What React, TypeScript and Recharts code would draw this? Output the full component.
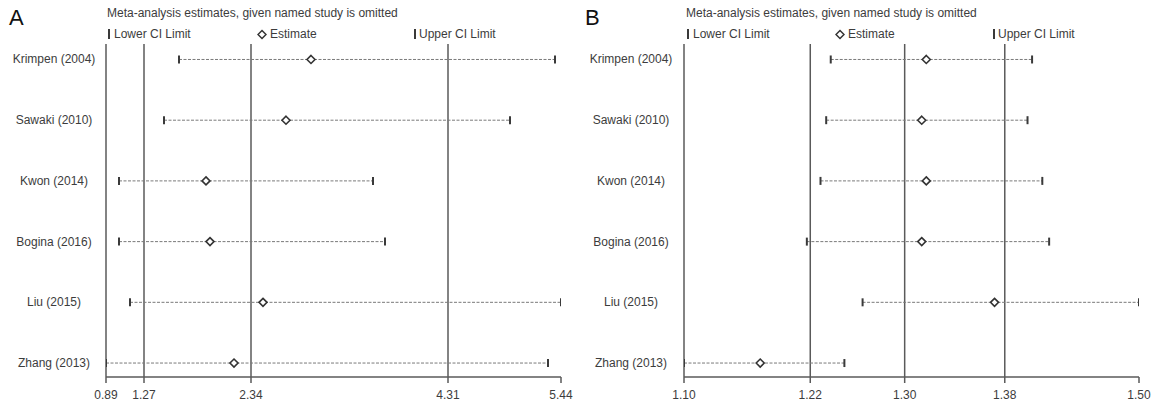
import { ScatterChart, Scatter, XAxis, YAxis, ReferenceLine } from "recharts"

// studies, top to bottom
const studies = ["Krimpen (2004)", "Sawaki (2010)", "Kwon (2014)", "Bogina (2016)", "Liu (2015)", "Zhang (2013)"]

// panel A
const lowerA = [1.62, 1.47, 1.02, 1.02, 1.13, 0.89]
const estA = [2.94, 2.69, 1.89, 1.93, 2.46, 2.17]
const upperA = [5.38, 4.93, 3.56, 3.68, 5.44, 5.31]
const pooledA = [1.27, 2.34, 4.31]
const ticksA = [0.89, 1.27, 2.34, 4.31, 5.44]
const tickLabelsA = ["0.89", "1.27", "2.34", "4.31", "5.44"]

// panel B
const lowerB = [1.229, 1.225, 1.22, 1.208, 1.257, 1.1]
const estB = [1.313, 1.309, 1.313, 1.309, 1.373, 1.167]
const upperB = [1.406, 1.402, 1.415, 1.421, 1.5, 1.241]
const pooledB = [1.211, 1.294, 1.382]
const ticksB = [1.1, 1.211, 1.294, 1.382, 1.5]
const tickLabelsB = ["1.10", "1.22", "1.30", "1.38", "1.50"]

const FONT = "'Liberation Sans', Arial, sans-serif"
const LINE = "#5a5a5a"
const TEXT = "#3c3c3c"

const Cap = (p: any) => (
  <line x1={p.cx} x2={p.cx} y1={p.cy - 4} y2={p.cy + 4} stroke="#3a3a3a" strokeWidth={2} />
)

const Diamond = (p: any) => (
  <polygon
    points={`${p.cx},${p.cy - 4} ${p.cx + 4},${p.cy} ${p.cx},${p.cy + 4} ${p.cx - 4},${p.cy}`}
    fill="#fff"
    stroke="#333"
    strokeWidth={1.6}
  />
)

interface PanelProps {
  left: number
  yWidth: number
  right: number
  labelOffset: number
  lower: number[]
  est: number[]
  upper: number[]
  pooled: number[]
  ticks: number[]
  tickLabels: string[]
}

function Panel({ left, yWidth, right, labelOffset, lower, est, upper, pooled, ticks, tickLabels }: PanelProps) {
  const pts = (vals: number[]) => vals.map((v, i) => ({ x: v, y: i }))
  const domain: [number, number] = [ticks[0], ticks[ticks.length - 1]]
  return (
    <div style={{ position: "absolute", left, top: 0 }}>
      <ScatterChart width={580} height={408} margin={{ top: 44, right, bottom: 0, left: 0 }}>
        <XAxis
          type="number"
          dataKey="x"
          domain={domain}
          ticks={ticks}
          interval={0}
          allowDataOverflow
          height={31}
          tickSize={6}
          tickMargin={7}
          axisLine={{ stroke: LINE, strokeWidth: 1.5 }}
          tickLine={{ stroke: LINE, strokeWidth: 1.5 }}
          tickFormatter={(v: number) => tickLabels[ticks.indexOf(v)] ?? String(v)}
          tick={{ fill: TEXT, fontSize: 12, fontFamily: FONT }}
        />
        <YAxis
          type="number"
          dataKey="y"
          reversed
          domain={[-0.255, 5.23]}
          ticks={[0, 1, 2, 3, 4, 5]}
          interval={0}
          allowDataOverflow
          width={yWidth}
          tickSize={0}
          tickMargin={0}
          tickLine={false}
          axisLine={{ stroke: LINE, strokeWidth: 1.5 }}
          tick={(p: any) => (
            <text
              x={p.x - labelOffset}
              y={p.y}
              textAnchor="middle"
              dominantBaseline="central"
              fill={TEXT}
              fontSize={12}
              fontFamily={FONT}
            >
              {studies[p.payload.value]}
            </text>
          )}
        />
        {pooled.map((v) => (
          <ReferenceLine key={`p-${v}`} x={v} stroke={LINE} strokeWidth={1.5} />
        ))}
        {studies.map((s, i) => (
          <ReferenceLine
            key={`ci-${s}`}
            segment={[{ x: lower[i], y: i }, { x: upper[i], y: i }]}
            stroke="#7a7a7a"
            strokeWidth={1}
            strokeDasharray="3 1.5"
          />
        ))}
        <Scatter data={pts(lower)} shape={Cap} isAnimationActive={false} />
        <Scatter data={pts(upper)} shape={Cap} isAnimationActive={false} />
        <Scatter data={pts(est)} shape={Diamond} isAnimationActive={false} />
      </ScatterChart>
    </div>
  )
}

interface HeaderProps {
  letter: string
  letterX: number
  titleX: number
  lowerX: number
  diamondX: number
  upperX: number
}

function Header({ letter, letterX, titleX, lowerX, diamondX, upperX }: HeaderProps) {
  const bar = (left: number) => (
    <div style={{ position: "absolute", left, top: 29, width: 2, height: 10, background: "#3a3a3a" }} />
  )
  const txt = (left: number, top: number, s: string) => (
    <div style={{ position: "absolute", left, top, fontSize: 12, color: TEXT, whiteSpace: "nowrap", lineHeight: 1 }}>{s}</div>
  )
  return (
    <>
      <div style={{ position: "absolute", left: letterX, top: 7, fontSize: 22, color: "#111", lineHeight: 1 }}>{letter}</div>
      {txt(titleX, 7, "Meta-analysis estimates, given named study is omitted")}
      {bar(lowerX)}
      {txt(lowerX + 6, 28, "Lower CI Limit")}
      <svg style={{ position: "absolute", left: diamondX - 5, top: 29 }} width={10} height={11}>
        <polygon points="5,1.5 9,5.5 5,9.5 1,5.5" fill="#fff" stroke="#333" strokeWidth={1.5} />
      </svg>
      {txt(diamondX + 8, 28, "Estimate")}
      {bar(upperX)}
      {txt(upperX + 5, 28, "Upper CI Limit")}
    </>
  )
}

export default function App() {
  return (
    <div
      style={{
        position: "absolute",
        left: 0,
        top: 0,
        width: 1157,
        height: 408,
        background: "#fff",
        fontFamily: FONT,
        overflow: "hidden",
      }}
    >
      <Header letter="A" letterX={9} titleX={107} lowerX={108} diamondX={262} upperX={414} />
      <Header letter="B" letterX={585} titleX={686} lowerX={687} diamondX={840} upperX={993} />
      <Panel
        left={0}
        yWidth={106}
        right={19}
        labelOffset={52}
        lower={lowerA}
        est={estA}
        upper={upperA}
        pooled={pooledA}
        ticks={ticksA}
        tickLabels={tickLabelsA}
      />
      <Panel
        left={577}
        yWidth={107}
        right={18}
        labelOffset={53}
        lower={lowerB}
        est={estB}
        upper={upperB}
        pooled={pooledB}
        ticks={ticksB}
        tickLabels={tickLabelsB}
      />
    </div>
  )
}
